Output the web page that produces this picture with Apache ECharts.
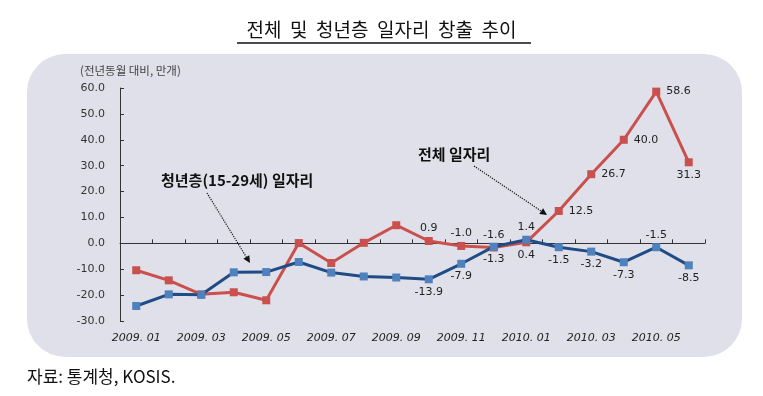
<!DOCTYPE html>
<html>
<head>
<meta charset="utf-8">
<script src="https://cdn.jsdelivr.net/npm/echarts@6/dist/echarts.min.js"></script>
<style>
	html, body { margin: 0; padding: 0; background: #fff; }
	#main { width: 763px; height: 396px; }
</style>
</head>
<body>
<div id="main"></div>
<script>
// categories (2009.01 ~ 2010.06)
var months = ['2009. 01', '2009. 02', '2009. 03', '2009. 04', '2009. 05', '2009. 06',
	'2009. 07', '2009. 08', '2009. 09', '2009. 10', '2009. 11', '2009. 12',
	'2010. 01', '2010. 02', '2010. 03', '2010. 04', '2010. 05', '2010. 06'];

// 전체 일자리 (전년동월 대비, 만개)
var totalJobs = [-10.4, -14.3, -19.7, -18.9, -22.0, 0.1, -7.6, 0.2, 7.0,
	0.9, -1.0, -1.6, 0.4, 12.5, 26.7, 40.0, 58.6, 31.3];

// 청년층(15-29세) 일자리
var youthJobs = [-24.2, -19.7, -19.9, -11.2, -11.1, -7.2, -11.3, -12.8, -13.2,
	-13.9, -7.9, -1.3, 1.4, -1.5, -3.2, -7.3, -1.5, -8.5];

var yTicks = { min: -30, max: 60, step: 10 };

var dom = document.getElementById('main');
var myChart = echarts.init(dom, null, { renderer: 'canvas' });

// which points get a value label, and where
var totalLabelAt = { 9: 'top', 10: 'top', 11: 'top', 12: 'bottom', 13: 'right', 14: 'right', 15: 'right', 16: 'right', 17: 'bottom' };
var youthLabelAt = { 9: 'bottom', 10: 'bottom', 11: 'bottom', 12: 'top', 13: 'bottom', 14: 'bottom', 15: 'bottom', 16: 'top', 17: 'bottom' };

function withLabels(values, where) {
	return values.map(function(v, i) {
		if (!where[i]) return v;
		return {
			value: v,
			label: {
				show: true,
				position: where[i],
				distance: where[i] === 'right' ? 6 : 3
			}
		};
	});
}

var valueLabel = {
	fontFamily: 'DejaVu Sans',
	fontSize: 11,
	color: '#222',
	formatter: function(p) { return p.value.toFixed(1); }
};

// dotted arrow pointing at a line
function arrow(x1, y1, x2, y2) {
	var dx = x2 - x1, dy = y2 - y1;
	var len = Math.sqrt(dx * dx + dy * dy);
	var ux = dx / len, uy = dy / len;
	var bx = x2 - ux * 7, by = y2 - uy * 7;
	return [{
		type: 'line',
		shape: { x1: x1, y1: y1, x2: bx, y2: by },
		style: { stroke: '#111', lineWidth: 1.2, lineDash: [1.2, 1.2] },
		z: 10
	}, {
		type: 'polygon',
		shape: { points: [[x2, y2], [bx - uy * 3.5, by + ux * 3.5], [bx + uy * 3.5, by - ux * 3.5]] },
		style: { fill: '#111' },
		z: 10
	}];
}

var option = {
	animation: false,
	textStyle: { fontFamily: 'DejaVu Sans' },
	grid: {
		left: 120,
		right: 58,
		top: 88,
		bottom: 75
	},
	xAxis: [{
		type: 'category',
		data: months,
		boundaryGap: true,
		axisLine: { onZero: true, lineStyle: { color: '#333', width: 1 } },
		axisTick: { show: true, inside: true, interval: 0, length: 4, lineStyle: { color: '#333' } },
		axisLabel: { show: false },
		splitLine: { show: false }
	}, {
		type: 'category',
		data: months,
		position: 'bottom',
		boundaryGap: true,
		axisLine: { show: false, onZero: false },
		axisTick: { show: false },
		axisLabel: {
			interval: 1,
			margin: 12,
			fontSize: 11,
			fontStyle: 'italic',
			color: '#222',
			fontFamily: 'DejaVu Sans'
		}
	}],
	yAxis: {
		type: 'value',
		min: yTicks.min,
		max: yTicks.max,
		interval: yTicks.step,
		axisLine: { show: true, lineStyle: { color: '#333', width: 1 } },
		axisTick: { show: true, inside: true, length: 4, lineStyle: { color: '#333' } },
		axisLabel: {
			margin: 15,
			fontSize: 11,
			color: '#333',
			formatter: function(v) { return v.toFixed(1); }
		},
		splitLine: { show: false }
	},
	graphic: [{
		type: 'rect',
		shape: { x: 27, y: 54, width: 715, height: 303, r: 38 },
		style: { fill: '#e0e0ea' },
		z: -10
	}, {
		type: 'text',
		left: 'center',
		top: 20,
		style: {
			text: '전체  및  청년층  일자리  창출  추이',
			font: '19px "Noto Sans CJK KR"',
			fill: '#111'
		}
	}, {
		type: 'line',
		shape: { x1: 237, y1: 43, x2: 531, y2: 43 },
		style: { stroke: '#111', lineWidth: 1.5 }
	}, {
		type: 'text',
		left: 80,
		top: 65,
		style: {
			text: '(전년동월 대비, 만개)',
			font: '11.5px "Noto Sans CJK KR"',
			fill: '#444'
		}
	}, {
		type: 'text',
		left: 161,
		top: 173,
		style: {
			text: '청년층(15-29세) 일자리',
			font: 'bold 15px "Noto Sans CJK KR"',
			fill: '#111'
		},
		z: 10
	}, {
		type: 'text',
		left: 418,
		top: 147,
		style: {
			text: '전체 일자리',
			font: 'bold 15px "Noto Sans CJK KR"',
			fill: '#111'
		},
		z: 10
	}, {
		type: 'text',
		left: 27,
		top: 368,
		style: {
			text: '자료: 통계청, KOSIS.',
			font: '17px "Noto Sans CJK KR"',
			fill: '#111'
		}
	}].concat(arrow(207, 193, 250, 263), arrow(474, 166, 547, 215)),
	series: [{
		name: '전체 일자리',
		type: 'line',
		xAxisIndex: 0,
		data: withLabels(totalJobs, totalLabelAt),
		symbol: 'rect',
		symbolSize: 8,
		lineStyle: { color: '#c9504c', width: 3 },
		itemStyle: { color: '#c9504c' },
		label: valueLabel,
		z: 3
	}, {
		name: '청년층(15-29세) 일자리',
		type: 'line',
		xAxisIndex: 0,
		data: withLabels(youthJobs, youthLabelAt),
		symbol: 'rect',
		symbolSize: 8,
		lineStyle: { color: '#1f4c85', width: 3 },
		itemStyle: { color: '#4f81bd' },
		label: valueLabel,
		z: 4
	}]
};

if (option && typeof option === 'object') {
	myChart.setOption(option);
}

window.addEventListener('resize', myChart.resize);
</script>
</body>
</html>
